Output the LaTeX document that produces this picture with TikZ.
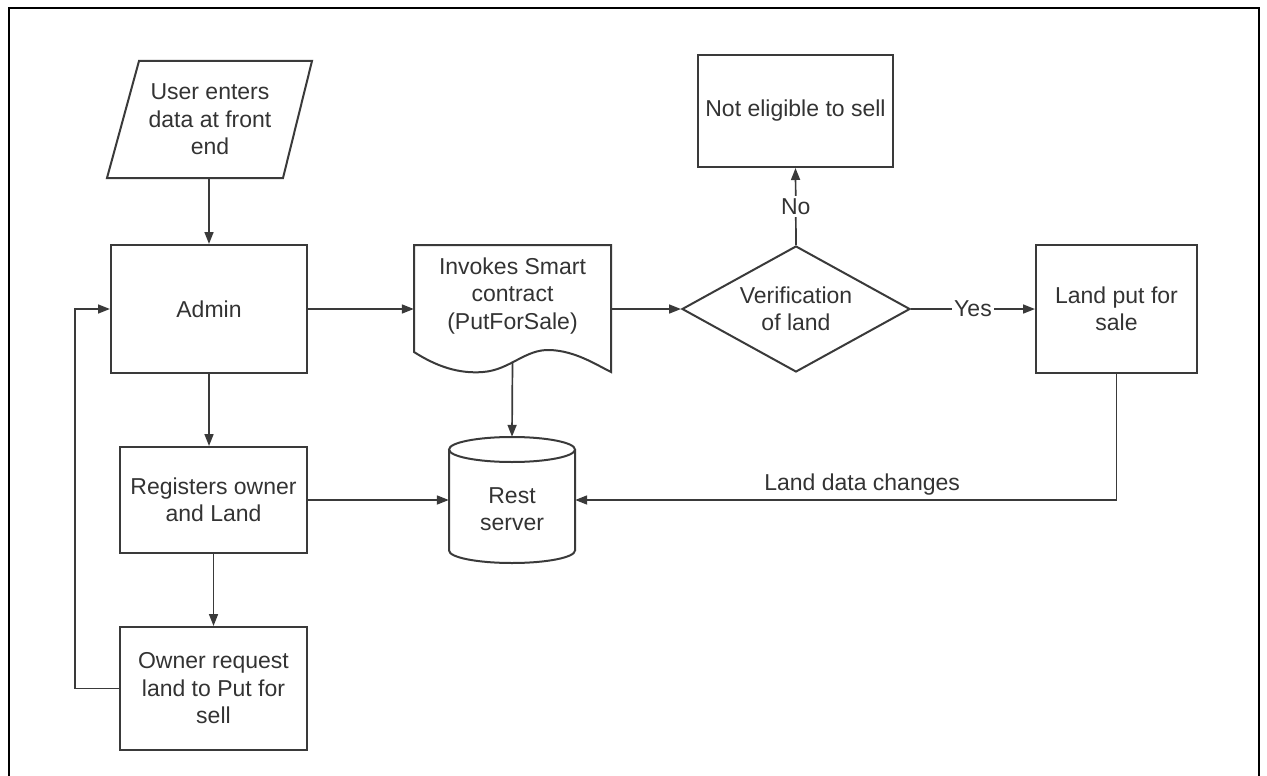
\documentclass[tikz,border=0pt]{standalone}
\usepackage{fontspec}
\setmainfont{Liberation Sans}
\usetikzlibrary{arrows.meta,calc,shapes.geometric}
\definecolor{ink}{HTML}{3A3A3A}
\definecolor{txt}{HTML}{333333}
\begin{document}
\begin{tikzpicture}[x=1pt,y=-1pt,
  every node/.style={font=\fontsize{23}{27.5}\selectfont, text=txt, align=center},
  box/.style={draw=ink, line width=2pt, rectangle, inner sep=0pt},
  ghost/.style={rectangle, inner sep=0pt},
  outline/.style={draw=ink, line width=2pt, line join=miter},
  link/.style={draw=ink, line width=1.7pt, -{Triangle[length=12pt,width=9pt]}},
  lbl/.style={fill=white, inner sep=2pt}
]
\useasboundingbox (0,0) rectangle (1267,776);
% open frame around the chart
\draw[line width=2.6pt, black] (9,780) -- (9,8) -- (1259,8) -- (1259,780);

% input parallelogram
\node[ghost, minimum width=205, minimum height=117] (user) at (210,119.5) {User enters\\data at front\\end};
\draw[outline] (139,61) -- (312,61) -- (283,178) -- (107,178) -- cycle;

% left column
\node[box, minimum width=196, minimum height=128] (admin) at (209,309) {Admin};
\node[box, minimum width=187, minimum height=106] (reg) at (213.5,500) {Registers owner\\and Land};
\node[box, minimum width=187, minimum height=123] (owner) at (213.5,688.5) {Owner request\\land to Put for\\sell};
\coordinate (loop) at (75,0);

% document shape for the contract call
\node[ghost, minimum width=197, minimum height=102] (doc) at (512.5,296) {Invokes Smart\\contract\\(PutForSale)};
\draw[outline] (414,245) -- (611,245) -- (611,372)
  .. controls (595,364) and (575,351) .. (550,350)
  .. controls (525,349) and (510,370) .. (483,372)
  .. controls (458,374) and (436,366) .. (414,352) -- cycle;
\coordinate (docfoot) at (512.5,362);

% database cylinder
\node[ghost, minimum width=126, minimum height=126] (rest) at (512,500) {};
\node (restlbl) at (512,509) {Rest\\server};
\draw[outline] (512,449.5) ellipse [x radius=63, y radius=12.5];
\draw[outline] (449,449.5) -- (449,550.5)
  .. controls (449,557.4) and (477.2,563) .. (512,563)
  .. controls (546.8,563) and (575,557.4) .. (575,550.5) -- (575,449.5);

% decision and outcomes
\node[diamond, draw=ink, line width=2pt, inner sep=0pt, aspect=1.81,
      minimum width=228, minimum height=126] (ver) at (796,309) {Verification\\of land};
\node[box, minimum width=195, minimum height=112] (noteg) at (795.5,111) {Not eligible to sell};
\node[box, minimum width=161, minimum height=128] (sale) at (1116.5,309) {Land put for\\sale};

% connectors
\draw[link] (user.south -| admin.north) -- (admin.north);
\draw[link] (admin.east) -- (admin.east -| doc.west);
\draw[link] (doc.east |- ver.west) -- (ver.west);
\draw[link] (ver.north) -- node[lbl] {No} (noteg.south);
\draw[link] (ver.east) -- node[lbl] {Yes} (sale.west);
\draw[link] (admin.south) -- (admin.south |- reg.north);
\draw[link] (reg.east) -- (reg.east -| rest.west);
\draw[link] (docfoot) -- (rest.north);
\draw[link] (sale.south) |- node[pos=0.735, above, inner sep=4pt] {Land data changes} (rest.east);
\draw[link] (reg.south) -- (owner.north);
\draw[link] (owner.west) -- (owner.west -| loop) |- (admin.west);
\end{tikzpicture}
\end{document}
